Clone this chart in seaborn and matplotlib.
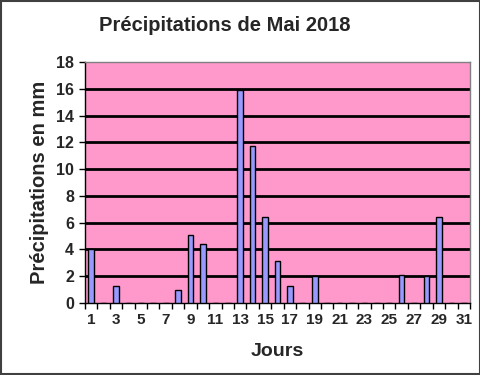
import matplotlib
matplotlib.use("Agg")
import matplotlib.pyplot as plt
import seaborn as sns
import pandas as pd
import numpy as np
from matplotlib.ticker import FixedLocator

sns.set_style("white")
plt.rcParams['font.family'] = ['Liberation Sans', 'DejaVu Sans']

days = list(range(1, 32))
rain_days = [1, 3, 8, 9, 10, 13, 14, 15, 16, 17, 19, 26, 28, 29]
rain_mm = [4.0, 1.3, 1.0, 5.1, 4.4, 15.9, 11.7, 6.4, 3.1, 1.3, 2.0, 2.1, 2.0, 6.4]
yticks = [0, 2, 4, 6, 8, 10, 12, 14, 16, 18]
title = "Précipitations de Mai 2018"
xlabel = "Jours"
ylabel = "Précipitations en mm"

values = {d: 0.0 for d in days}
for d, v in zip(rain_days, rain_mm):
    values[d] = v
df = pd.DataFrame({"day": [str(d) for d in days], "mm": [values[d] for d in days]})

fig = plt.figure(figsize=(4.81, 3.75), dpi=100)
fig.patch.set_facecolor("white")
ax = fig.add_axes([0.1767, 0.192, 0.8003, 0.6427])
ax.set_facecolor("#FF99CC")

sns.barplot(data=df, x="day", y="mm", order=[str(d) for d in days],
            color="#9999FF", edgecolor="black", linewidth=1.0, width=0.45,
            saturation=1, ax=ax, zorder=3)

ax.set_ylim(0, 18)
ax.set_xlim(-0.5, 30.5)
ax.set_yticks(yticks)
ax.set_yticklabels([str(t) for t in yticks], fontsize=11.5, fontweight="bold")
for y in yticks[1:-1]:
    ax.axhline(y, color="black", linewidth=2, zorder=1)

ax.set_xticks(range(len(days)))
ax.set_xticklabels([str(d) if d % 2 == 1 else "" for d in days], fontsize=11, fontweight="bold")
ax.tick_params(axis="x", which="major", length=0, pad=7)
ax.xaxis.set_minor_locator(FixedLocator(np.arange(-0.5, 31, 1)))
ax.tick_params(axis="x", which="minor", length=4, width=1, color="black", direction="out", bottom=True)
ax.tick_params(axis="y", length=4, width=1, color="black", direction="out", left=True, pad=4)

ax.set_xlabel(xlabel, fontsize=14, fontweight="bold", labelpad=12)
ax.set_ylabel(ylabel, fontsize=14.5, fontweight="bold", labelpad=5)

for s in ["top", "right"]:
    ax.spines[s].set_color("#808080")
    ax.spines[s].set_linewidth(1)
for s in ["left", "bottom"]:
    ax.spines[s].set_color("black")
    ax.spines[s].set_linewidth(1)

fig.text(0.468, 0.933, title, ha="center", va="center", fontsize=14.5, fontweight="bold")

border = plt.Rectangle((0.002, 0.002), 0.996, 0.995, transform=fig.transFigure,
                       fill=False, edgecolor="#404040", linewidth=1.5)
fig.patches.append(border)

fig.savefig("out.png", dpi=100)
